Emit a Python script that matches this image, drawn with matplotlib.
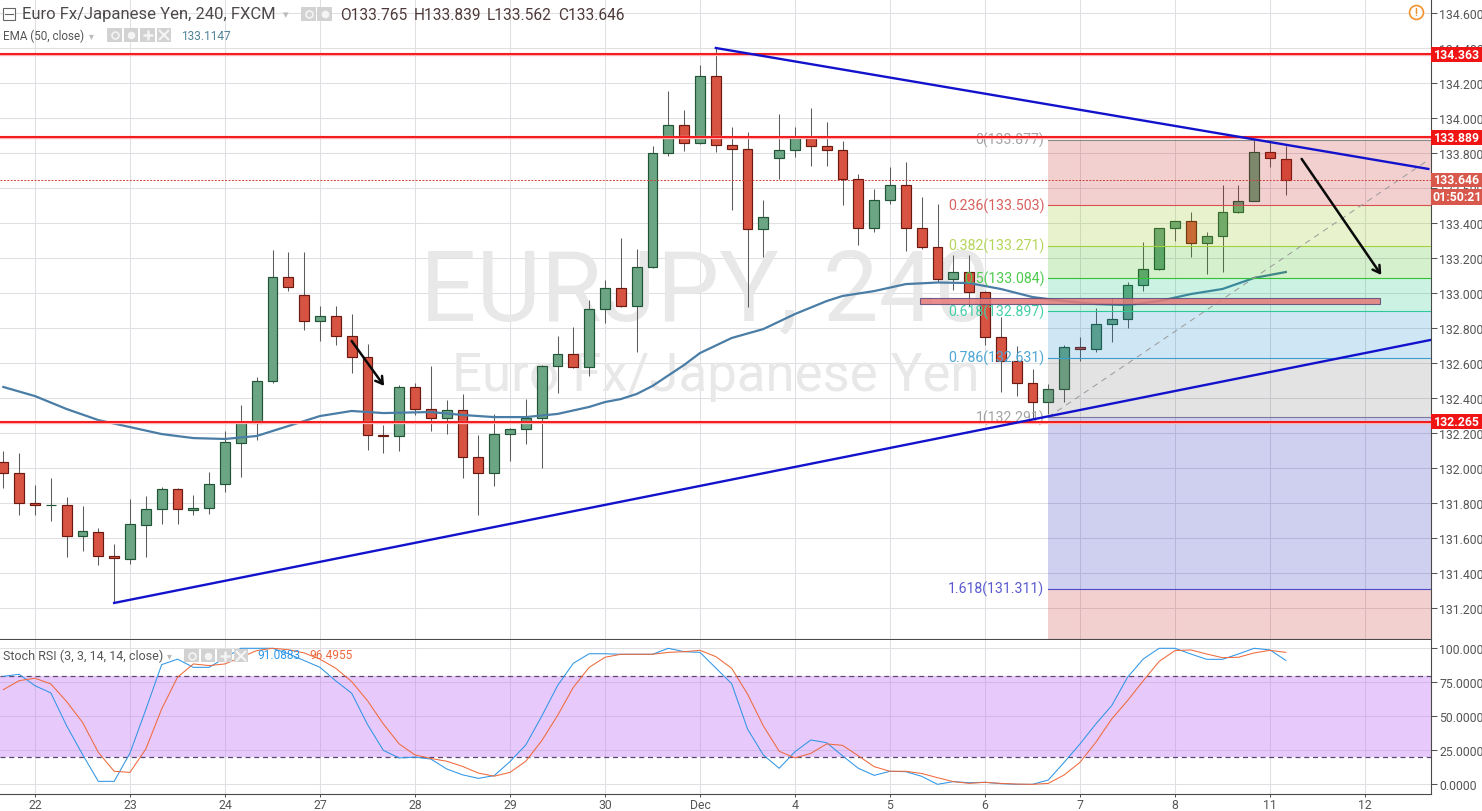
#%%
import matplotlib
matplotlib.use("Agg")
import matplotlib.pyplot as plt
from matplotlib.patches import Rectangle

plt.rcParams["font.family"] = ["Roboto", "DejaVu Sans"]

#%% values (first bar is two bars before the "22" tick)

first_bar = -2
opens = [132.034, 131.970, 131.800, 131.786, 131.790, 131.611, 131.634, 131.497, 131.480, 131.674,
         131.766, 131.880, 131.760, 131.770, 131.907, 132.145, 132.255, 132.495, 133.090, 132.987,
         132.838, 132.867, 132.753, 132.633, 132.187, 132.181, 132.461, 132.335, 132.284, 132.330,
         132.061, 131.970, 132.193, 132.221, 132.287, 132.581, 132.650, 132.575, 132.907, 133.027,
         132.927, 133.147, 133.798, 133.958, 133.855, 134.238, 133.844, 133.821, 133.364, 133.770,
         133.815, 133.884, 133.838, 133.815, 133.650, 133.370, 133.530, 133.615, 133.370, 133.261,
         133.078, 133.118, 133.004, 132.750, 132.610, 132.484, 132.375, 132.450, 132.690, 132.678,
         132.821, 132.850, 133.044, 133.135, 133.370, 133.410, 133.287, 133.324, 133.461, 133.527,
         133.804, 133.765]
highs = [132.097, 132.086, 131.903, 131.943, 131.834, 131.783, 131.657, 131.566, 131.823, 131.840,
         131.891, 131.886, 131.846, 131.977, 132.211, 132.360, 132.520, 133.247, 133.234, 133.234,
         132.926, 132.926, 132.880, 132.709, 132.246, 132.474, 132.486, 132.583, 132.389, 132.423,
         132.189, 132.309, 132.229, 132.394, 132.590, 132.754, 132.806, 132.960, 133.074, 133.314,
         133.251, 133.842, 134.154, 134.046, 134.303, 134.400, 133.949, 133.920, 133.531, 134.023,
         133.949, 134.057, 133.977, 133.869, 133.680, 133.594, 133.720, 133.749, 133.549, 133.509,
         133.217, 133.217, 133.011, 132.863, 132.697, 132.566, 132.480, 132.705, 132.749, 132.914,
         132.971, 133.063, 133.291, 133.374, 133.414, 133.463, 133.349, 133.617, 133.617, 133.886,
         133.863, 133.839]
lows = [131.886, 131.731, 131.731, 131.697, 131.491, 131.526, 131.446, 131.229, 131.451, 131.491,
        131.680, 131.680, 131.731, 131.737, 131.865, 131.950, 132.162, 132.486, 133.013, 132.790,
        132.727, 132.705, 132.543, 132.105, 132.087, 132.099, 132.305, 132.213, 132.196, 131.945,
        131.733, 131.899, 132.042, 132.139, 132.002, 132.430, 132.569, 132.527, 132.830, 132.922,
        132.665, 133.143, 133.785, 133.813, 133.850, 133.807, 133.476, 132.922, 133.206, 133.651,
        133.777, 133.727, 133.727, 133.505, 133.276, 133.349, 133.509, 133.240, 133.251, 133.063,
        133.019, 132.927, 132.703, 132.434, 132.413, 132.280, 132.309, 132.379, 132.611, 132.665,
        132.722, 132.800, 133.013, 133.130, 133.299, 133.206, 133.109, 133.120, 133.459, 133.524,
        133.720, 133.562]
closes = [131.971, 131.798, 131.789, 131.791, 131.613, 131.640, 131.497, 131.486, 131.680, 131.766,
          131.880, 131.766, 131.771, 131.907, 132.147, 132.255, 132.495, 133.090, 133.033, 132.838,
          132.867, 132.753, 132.633, 132.187, 132.181, 132.461, 132.335, 132.284, 132.330, 132.061,
          131.970, 132.193, 132.221, 132.287, 132.581, 132.650, 132.575, 132.907, 133.027, 132.927,
          133.147, 133.798, 133.958, 133.855, 134.238, 133.844, 133.821, 133.364, 133.433, 133.815,
          133.884, 133.838, 133.815, 133.650, 133.370, 133.530, 133.615, 133.370, 133.261, 133.078,
          133.118, 133.004, 132.750, 132.610, 132.484, 132.375, 132.450, 132.690, 132.678, 132.821,
          132.850, 133.044, 133.135, 133.370, 133.410, 133.287, 133.324, 133.461, 133.524, 133.804,
          133.770, 133.646]

ema_bars = [-2, 0, 2, 4, 6, 8, 10, 12, 14, 16, 18, 20, 22, 25, 27, 29, 31, 33, 35, 36, 37, 38, 39, 41,
            42, 44, 46, 48, 50, 51, 53, 55, 57, 59, 61, 63, 65, 67, 69, 71, 73, 75, 77, 79]
ema_vals = [132.463, 132.411, 132.337, 132.274, 132.234, 132.194, 132.171, 132.166, 132.183, 132.240,
            132.297, 132.326, 132.314, 132.320, 132.303, 132.291, 132.291, 132.309, 132.349, 132.377,
            132.394, 132.423, 132.469, 132.589, 132.657, 132.743, 132.794, 132.880, 132.954, 132.983,
            133.011, 133.051, 133.060, 133.057, 133.023, 132.977, 132.954, 132.937, 132.931, 132.954,
            132.994, 133.023, 133.086, 133.120]

stoch_k = [79.4, 80.9, 72.5, 67.2, 43, 22, 2.2, 2.2, 23, 55, 88, 92, 86, 86, 93, 100, 100, 100, 96, 91,
           86, 76, 67, 44, 25, 19.4, 20, 18.6, 11.3, 7, 4.4, 6.4, 16.7, 29, 50, 72.5, 89, 96, 96, 95.6,
           95.6, 95.6, 100, 97.5, 97, 85.5, 74, 40.7, 21.6, 11.8, 24, 32.6, 30.6, 21, 11.8, 6.6, 9.6,
           9.3, 5.9, 0, 2, 1.2, 1.5, 0.5, 0, 0, 3.2, 16.2, 29.7, 44.4, 57.8, 78.7, 92.2, 100, 100, 95.8,
           91.9, 91.9, 95.8, 100, 98.8, 91.1]
stoch_d = [69.6, 76.2, 78, 73.8, 60.8, 45.6, 23.5, 9.6, 8.8, 26, 55.4, 78.7, 88.5, 87.3, 88.5, 93.4,
           98.3, 100, 99, 96.6, 92, 85.3, 75.5, 61.5, 44.4, 29.7, 21.6, 19, 17, 13.2, 8.3, 6, 8.8, 17,
           32, 50.5, 71.3, 86, 93.4, 95.6, 95.6, 95.6, 97, 97.5, 98.5, 93.9, 85.3, 66.4, 43, 24.3, 19.4,
           22.8, 29.7, 28.7, 21, 13, 9.6, 9.6, 8, 4.9, 2, 0.7, 1.5, 0.7, 0.2, 0, 0.7, 6.9, 16.2, 30.9,
           48, 61.5, 76.2, 90.4, 98.3, 98.8, 95.8, 93.1, 93.4, 96.6, 98.5, 97]

tick_bars = [0, 6, 12, 18, 24, 30, 36, 42, 48, 54, 60, 66, 72, 78, 84]
tick_labels = ["22", "23", "24", "27", "28", "29", "30", "Dec", "4", "5", "6", "7", "8", "11", "12"]

fib_levels = [0, 0.236, 0.382, 0.5, 0.618, 0.786, 1, 1.618]
fib_prices = [133.877, 133.503, 133.271, 133.084, 132.897, 132.631, 132.291, 131.311]
fib_line_cols = ["#8a8a8a", "#d8504f", "#a5cf3c", "#35c235", "#2fc79c", "#3a9fd0", "#7a7a9a", "#4a4ac8"]
fib_text_cols = ["#a3a3a3", "#d8605f", "#b4d65a", "#4fcb4f", "#45cfa8", "#4ea6d6", "#a3a3a3", "#5a5ad0"]
fib_fill_cols = ["#c71414", "#8cc305", "#28b405", "#00be78", "#0f82cc", "#737373", "#0f14b4", "#c71414"]

red_levels = [134.363, 133.889, 132.265]
last_price = 133.646
trend_down = ([43, 88], [134.400, 133.709])
trend_up = ([5, 88.1], [131.229, 132.731])
fib_diag = ([64, 87.9], [132.291, 133.754])
arrow_small = ((20, 132.726), (22.05, 132.469))
arrow_big = ((80, 133.766), (85.03, 133.103))
zone_bars = (55.9, 84.96)
zone_prices = (132.94, 132.97)

#%% figure with two panes

W, H = 1482, 812
bar_px = 95 / 6
xlim = (-35 / bar_px, (1431 - 35) / bar_px)

fig = plt.figure(figsize=(W / 100, H / 100), dpi=100, facecolor="white")
ax = fig.add_axes([0, (H - 640) / H, 1431 / W, 640 / H])
ax2 = fig.add_axes([0, (H - 795) / H, 1431 / W, 154 / H])

grid_col = "#dfdfe4"
for a in (ax, ax2):
    a.set_xlim(xlim)
    a.set_xticks(tick_bars)
    a.grid(True, color=grid_col, lw=0.75)
    a.set_axisbelow(True)
    a.yaxis.tick_right()
    a.tick_params(axis="y", length=4, width=0.75, color="#555555", labelcolor="#555555", labelsize=8.8, pad=2)
    for s in ("top", "left", "bottom"):
        a.spines[s].set_visible(False)
    a.spines["right"].set_color("#4a4a4a")

ax.set_ylim(131.023, 134.68)
ax.set_yticks([131.2 + 0.2 * i for i in range(18)])
ax.set_yticklabels(["%.3f" % (131.2 + 0.2 * i) for i in range(18)])
ax.tick_params(axis="x", length=0, labelbottom=False)
ax.spines["bottom"].set_visible(True)
ax.spines["bottom"].set_color("#4a4a4a")

#%% watermark

ax.text(420 / W, 1 - 320 / H, "EURJPY, 240", transform=fig.transFigure, fontsize=71.5, color="#e8e8e8",
        va="baseline", ha="left", zorder=1)
ax.text(452 / W, 1 - 391 / H, "Euro Fx/Japanese Yen", transform=fig.transFigure, fontsize=38, color="#e8e8e8",
        va="baseline", ha="left", zorder=1)

#%% candles

bars = list(range(first_bar, first_bar + len(opens)))
for b, o, h, l, c in zip(bars, opens, highs, lows, closes):
    up = c >= o
    ax.vlines(b, l, h, color="#5c5c5c", lw=0.75, zorder=2)
    ax.bar(b, abs(c - o), bottom=min(o, c), width=0.63, color="#6ba583" if up else "#d75442",
           edgecolor="#225437" if up else "#6b1a12", lw=0.85, zorder=3)

ax.plot(ema_bars, ema_vals, color="#4a7da6", lw=1.6, zorder=4)

#%% fib tool, drawn over the candles

x0, x1 = 64, xlim[1]
bounds = fib_prices + [131.023]
for i in range(len(fib_prices)):
    ax.fill_between([x0, x1], bounds[i + 1], bounds[i], color=fib_fill_cols[i], alpha=0.2, lw=0, zorder=5)
    ax.plot([x0, x1], [fib_prices[i], fib_prices[i]], color=fib_line_cols[i], lw=0.8, zorder=6)
    ax.text(63.75, fib_prices[i], "%g(%.3f)" % (fib_levels[i], fib_prices[i]), color=fib_text_cols[i],
            fontsize=10.2, ha="right", va="center", zorder=6)

ax.plot(*fib_diag, color="#9a9a9a", lw=0.7, ls=(0, (6, 5)), zorder=6)

#%% drawings

ax.add_patch(Rectangle((zone_bars[0], zone_prices[0]), zone_bars[1] - zone_bars[0], zone_prices[1] - zone_prices[0],
                       fc="#e77a7a", ec="#5b4a78", lw=0.8, alpha=0.85, zorder=6))
for p in red_levels:
    ax.axhline(p, color="#ffb0b0", lw=2.4, zorder=6)
    ax.axhline(p, color="#f01010", lw=1.3, zorder=7)
ax.axhline(last_price, color="#d0403a", lw=0.7, ls=(0, (2, 1.5)), zorder=6)
ax.plot(*trend_down, color="#1212cc", lw=1.7, zorder=7)
ax.plot(*trend_up, color="#1212cc", lw=1.7, zorder=7)
for start, end in (arrow_small, arrow_big):
    ax.annotate("", xy=end, xytext=start, zorder=8,
                arrowprops=dict(arrowstyle="->,head_length=0.5,head_width=0.3", color="#0a0a0a", lw=1.8,
                                shrinkA=0, shrinkB=0))

#%% price boxes on the axis

box_w = 51 / 1431
def price_box(p, txt, col, tall=0.042):
    ax.add_patch(Rectangle((1, p - tall), box_w, 2 * tall, transform=ax.get_yaxis_transform(), fc=col, ec=col,
                           lw=0, clip_on=False, zorder=9))
    ax.text(1 + 26 / 1431, p, txt, transform=ax.get_yaxis_transform(), color="white", fontsize=8.8, weight="bold",
            ha="center", va="center", clip_on=False, zorder=10)

for p in red_levels:
    price_box(p, "%.3f" % p, "#f01414")
price_box(last_price, "%.3f" % last_price, "#d9584c")
price_box(133.549, "01:50:21", "#d9584c", tall=0.046)

#%% stoch rsi pane

ax2.set_ylim(-7.1, 106.1)
ax2.set_yticks([0, 25, 50, 75, 100])
ax2.set_yticklabels(["0.0000", "25.0000", "50.0000", "75.0000", "100.0000"])
ax2.set_xticklabels(tick_labels)
ax2.tick_params(axis="x", length=2, width=0.75, color="#555555", labelcolor="#555555", labelsize=8.8, pad=1)
ax2.spines["bottom"].set_visible(True)
ax2.spines["bottom"].set_color("#4a4a4a")

ax2.axhspan(20, 80, color="#c47cf5", alpha=0.4, lw=0, zorder=1)
for lvl in (20, 80):
    ax2.axhline(lvl, color="#5a4a72", lw=0.9, ls=(0, (4, 3)), zorder=2)
ax2.plot(bars, stoch_k, color="#2f96e6", lw=0.75, zorder=3)
ax2.plot(bars, stoch_d, color="#ee6a3c", lw=0.75, zorder=4)

#%% header texts and small icons (pixel overlay)

ov = fig.add_axes([0, 0, 1, 1], zorder=20)
ov.set_xlim(0, W)
ov.set_ylim(H, 0)
ov.axis("off")
ov.patch.set_alpha(0)

def icon(x, y, kind, w=15.5, h=14):
    ov.add_patch(Rectangle((x, y), w - 1, h, fc="#d2d2d2", ec="none"))
    if kind == "o":
        ov.plot(x + w / 2, y + h / 2, "o", ms=5, mfc="none", mec="#f4f4f4", mew=1.2)
    if kind == "g":
        ov.plot(x + w / 2, y + h / 2, "o", ms=4.5, mfc="#f4f4f4", mec="#f4f4f4")
    if kind == "+":
        ov.plot(x + w / 2, y + h / 2, "+", ms=7, mec="#f4f4f4", mew=1.8)
    if kind == "x":
        ov.plot(x + w / 2, y + h / 2, "x", ms=7, mec="#f4f4f4", mew=1.6)

ov.add_patch(Rectangle((3, 9), 12, 12, fc="white", ec="#666666", lw=0.8))
ov.plot([5, 13], [15, 15], color="#666666", lw=0.8)
ov.text(22, 15, "Euro Fx/Japanese Yen, 240, FXCM", fontsize=12, color="#4f4a4a", va="center")
ov.text(283, 15, "▾", fontsize=8, color="#bbbbbb", va="center")
icon(301, 8, "o")
icon(317, 8, "g")
ov.text(340, 15, "O133.765", fontsize=11.2, color="#4f3a3a", va="center")
ov.text(414, 15, "H133.839", fontsize=11.2, color="#4f3a3a", va="center")
ov.text(487, 15, "L133.562", fontsize=11.2, color="#4f3a3a", va="center")
ov.text(558, 15, "C133.646", fontsize=11.2, color="#4f3a3a", va="center")

ov.text(3, 36, "EMA (50, close)", fontsize=8.4, color="#555555", va="center")
ov.text(89, 36, "▾", fontsize=7, color="#bbbbbb", va="center")
for x, k in zip((107, 123.5, 140, 156.5), "og+x"):
    icon(x, 29, k)
ov.text(181, 36, "133.1147", fontsize=8.6, color="#4f8296", va="center")

ov.text(3, 656, "Stoch RSI (3, 3, 14, 14, close)", fontsize=9, color="#555555", va="center")
ov.text(167, 656, "▾", fontsize=7, color="#bbbbbb", va="center")
for x, k in zip((184, 200.5, 217, 233.5), "og+x"):
    icon(x, 650, k, h=13)
ov.text(257, 656, "91.0883", fontsize=8.6, color="#2f96e6", va="center")
ov.text(309, 656, "96.4955", fontsize=8.6, color="#ee6a3c", va="center")

ov.plot(1416, 13, "o", ms=10, mfc="white", mec="#f0922e", mew=1.2)
ov.text(1416, 13, "!", fontsize=7.5, color="#f0922e", ha="center", va="center", weight="bold")

fig.savefig("out.png", dpi=100)
